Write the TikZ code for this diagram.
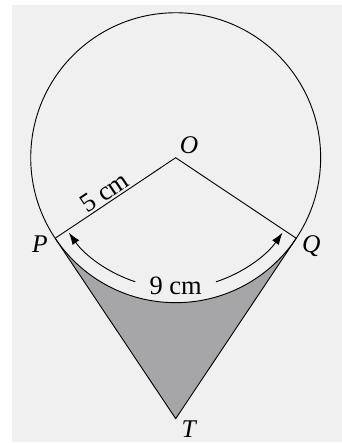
\documentclass[tikz,border=0pt]{standalone}
\usepackage{fontspec}
\setmainfont{Liberation Serif}
\usetikzlibrary{arrows.meta}
\definecolor{panelgray}{RGB}{240,240,240}
\definecolor{shadegray}{RGB}{166,166,168}

\begin{document}
\begin{tikzpicture}[line width=0.9pt, font=\fontsize{26}{30}\selectfont,
    arcarrow/.style={-{Latex[length=12pt,width=8pt]}},
    ptlabel/.style={font=\fontsize{25}{29}\selectfont\itshape, inner sep=0pt}]
  \useasboundingbox (-6.06,-9.84) rectangle (5.73,5.44);
  \fill[panelgray] (-5.65,-9.81) rectangle (5.73,5.27);
  \coordinate (O) at (0,0);
  \coordinate (P) at (213.75:5);
  \coordinate (Q) at (326.25:5);
  \coordinate (T) at (0,-9);
  % shaded region
  \fill[shadegray] (P) -- (T) -- (Q) arc[start angle=326.25, end angle=213.75, radius=5] -- cycle;
  \draw (P) -- (T) -- (Q);
  % circle and radii
  \draw (O) circle (5);
  \draw (P) -- (O) -- (Q);
  \path (P) -- (O) node[pos=0.46, sloped, above, inner sep=1.5pt] (r) {5 cm};
  % arc length
  \draw[arcarrow] (252:4.5) arc[start angle=252, end angle=215, radius=4.5];
  \draw[arcarrow] (288:4.5) arc[start angle=288, end angle=325, radius=4.5];
  \node (s) at (270:4.42) {9 cm};
  % labels
  \node[ptlabel] (lO) at (0.46,0.42) {O};
  \node[ptlabel] (lP) at (-4.68,-2.99) {P};
  \node[ptlabel] (lQ) at (4.68,-3.06) {Q};
  \node[ptlabel] (lT) at (0.45,-9.36) {T};
\end{tikzpicture}
\end{document}
